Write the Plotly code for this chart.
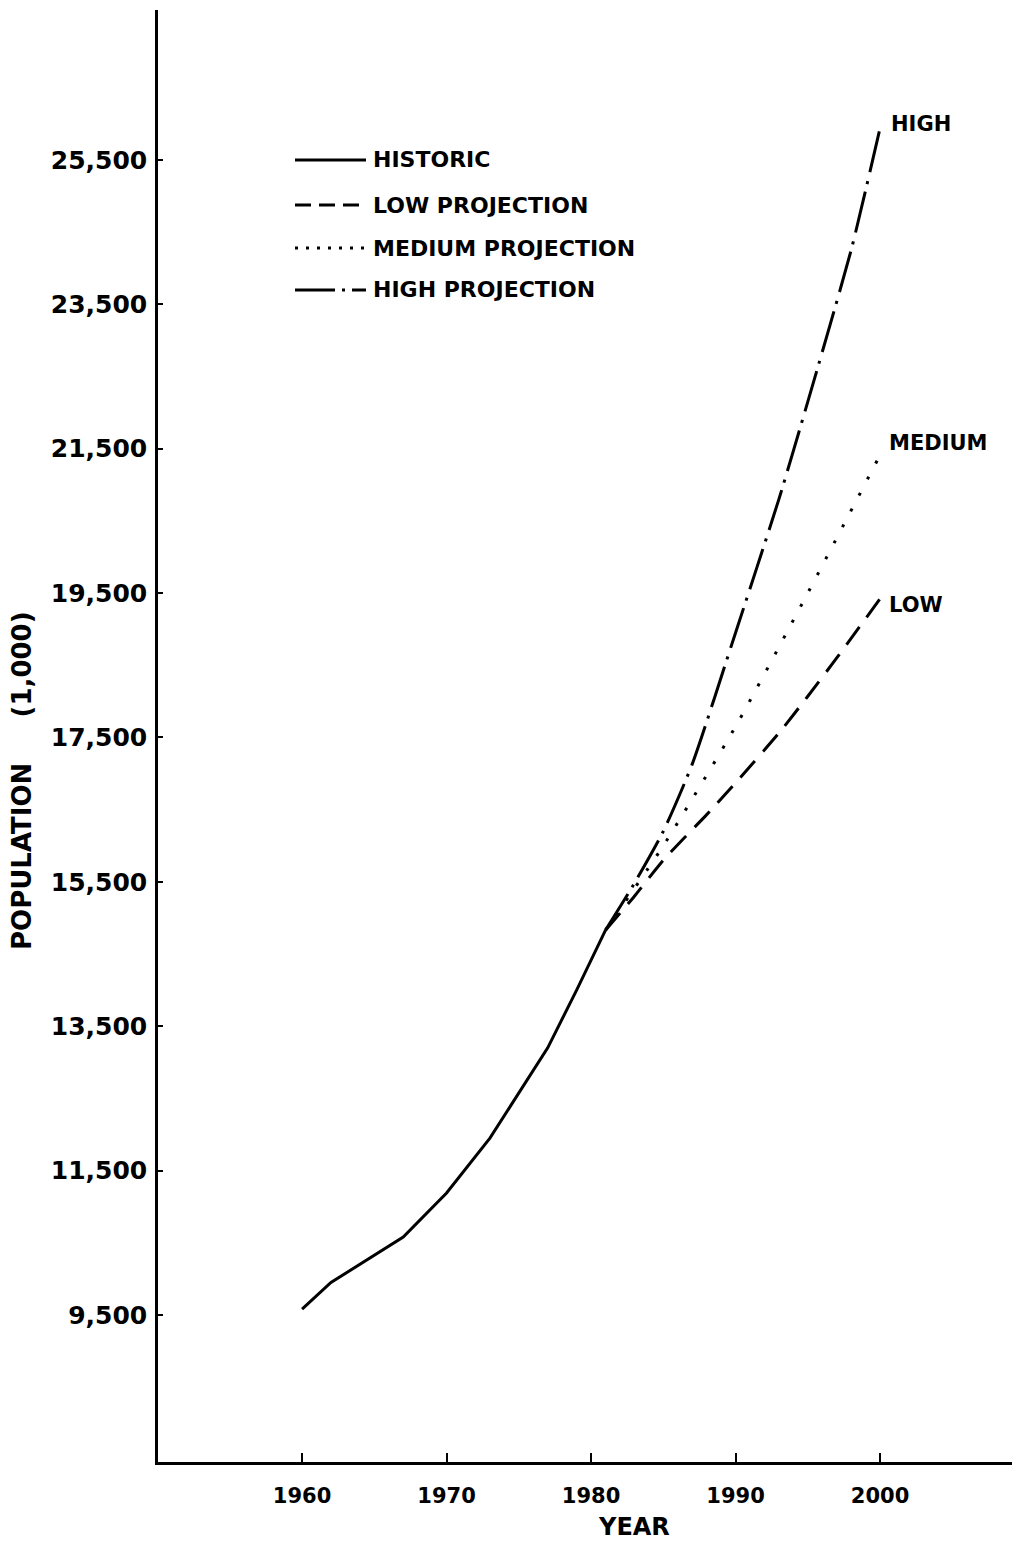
import plotly.graph_objects as go

# ---- data ----
hist_years = [1960, 1962, 1967, 1970, 1973, 1977, 1979, 1981]
hist_vals = [9580, 9950, 10580, 11190, 11950, 13200, 14000, 14830]

low_years = [1981, 1983, 1985, 1988, 1990, 1993, 1995, 1997, 2000]
low_vals = [14830, 15300, 15800, 16430, 16870, 17560, 18070, 18600, 19420]

med_years = [1981, 1985, 1990, 1995, 2000]
med_vals = [14830, 16000, 17650, 19500, 21410]

high_years = [1981, 1983, 1985, 1987, 1990, 1993, 1995, 1998, 2000]
high_vals = [14830, 15480, 16200, 17130, 18950, 20800, 22150, 24250, 25940]

x_ticks = [1960, 1970, 1980, 1990, 2000]
y_ticks = [9500, 11500, 13500, 15500, 17500, 19500, 21500, 23500, 25500]
y_ticktext = ["9,500", "11,500", "13,500", "15,500", "17,500", "19,500", "21,500", "23,500", "25,500"]

legend_names = ["HISTORIC", "LOW PROJECTION", "MEDIUM PROJECTION", "HIGH PROJECTION"]
end_labels = ["HIGH", "MEDIUM", "LOW"]
x_title = "YEAR"
y_title = "POPULATION\u00a0\u00a0\u00a0\u00a0\u00a0(1,000)"

FONT = "DejaVu Sans"
BOLD = "<b>%s</b>"
# page has an 8px body margin, so the figure is 16px smaller than the window
W, H = 1021, 1533
ML, MR, MT, MB = 150, 17, 2, 79
PW, PH = W - ML - MR, H - MT - MB   # 854 x 1452

DASH_LOW = "22px,12px"
DASH_MED = "3px,15px"
DASH_HIGH = "42px,8px,3px,9px"

fig = go.Figure()
fig.add_trace(go.Scatter(x=hist_years, y=hist_vals, mode="lines",
                         line=dict(color="black", width=3), showlegend=False))
fig.add_trace(go.Scatter(x=low_years, y=low_vals, mode="lines",
                         line=dict(color="black", width=3, dash=DASH_LOW, shape="spline", smoothing=0.6),
                         showlegend=False))
fig.add_trace(go.Scatter(x=med_years, y=med_vals, mode="lines",
                         line=dict(color="black", width=3, dash=DASH_MED, shape="spline", smoothing=0.6),
                         showlegend=False))
fig.add_trace(go.Scatter(x=high_years, y=high_vals, mode="lines",
                         line=dict(color="black", width=3, dash=DASH_HIGH, shape="spline", smoothing=0.6),
                         showlegend=False))

lab_font = dict(family=FONT, size=21, color="black")
# end labels
fig.add_annotation(x=high_years[-1], y=high_vals[-1], text=BOLD % end_labels[0], showarrow=False,
                   xanchor="left", yanchor="middle", xshift=9, yshift=4, font=lab_font)
fig.add_annotation(x=med_years[-1], y=med_vals[-1], text=BOLD % end_labels[1], showarrow=False,
                   xanchor="left", yanchor="middle", xshift=7, yshift=12, font=lab_font)
fig.add_annotation(x=low_years[-1], y=low_vals[-1], text=BOLD % end_labels[2], showarrow=False,
                   xanchor="left", yanchor="middle", xshift=7, yshift=-6, font=lab_font)

# reference-pixel -> paper coordinate helpers (reference plot area: x 158..1012, y 10..1462)
def px_x(px):
    return (px - 158) / PW

def px_y(py):
    return (1462 - py) / PH

legend_rows = [160, 205, 248, 290]
legend_dashes = ["solid", "16px,8px", "3px,8px", "40px,7px,3px,7px"]
for name, row, dash in zip(legend_names, legend_rows, legend_dashes):
    fig.add_shape(type="line", xref="paper", yref="paper",
                  x0=px_x(295), x1=px_x(366), y0=px_y(row), y1=px_y(row),
                  line=dict(color="black", width=3, dash=dash))
    fig.add_annotation(xref="paper", yref="paper", x=px_x(371), y=px_y(row),
                       text=BOLD % name, showarrow=False, xanchor="left", yanchor="middle",
                       font=dict(family=FONT, size=22, color="black"))

# axis titles
fig.add_annotation(xref="paper", yref="paper", x=px_x(634), y=px_y(1527),
                   text=BOLD % x_title, showarrow=False, xanchor="center", yanchor="middle",
                   font=dict(family=FONT, size=24, color="black"))
fig.add_annotation(xref="paper", yref="paper", x=px_x(22), y=px_y(781),
                   text=BOLD % y_title, showarrow=False, textangle=-90,
                   xanchor="center", yanchor="middle",
                   font=dict(family=FONT, size=26, color="black"))

fig.update_layout(
    width=W, height=H,
    margin=dict(l=ML, r=MR, t=MT, b=MB),
    paper_bgcolor="white", plot_bgcolor="white",
    font=dict(family=FONT, size=21, color="black"),
    showlegend=False,
)
fig.update_xaxes(range=[1950.03, 2009.13], tickvals=x_ticks,
                 ticktext=[BOLD % str(v) for v in x_ticks],
                 ticks="inside", ticklen=9,
                 tickwidth=1.5, tickcolor="black", showgrid=False, zeroline=False,
                 showline=True, linecolor="black", linewidth=2.5,
                 tickfont=dict(family=FONT, size=21, color="black"),
                 ticklabelstandoff=13)
fig.update_yaxes(range=[7464, 27574], tickvals=y_ticks,
                 ticktext=[BOLD % t for t in y_ticktext], ticks="inside",
                 ticklen=5, tickwidth=1.5, tickcolor="black", showgrid=False, zeroline=False,
                 showline=True, linecolor="black", linewidth=2.5,
                 tickfont=dict(family=FONT, size=25, color="black"),
                 ticklabelstandoff=3)

fig.write_html("out.html")
